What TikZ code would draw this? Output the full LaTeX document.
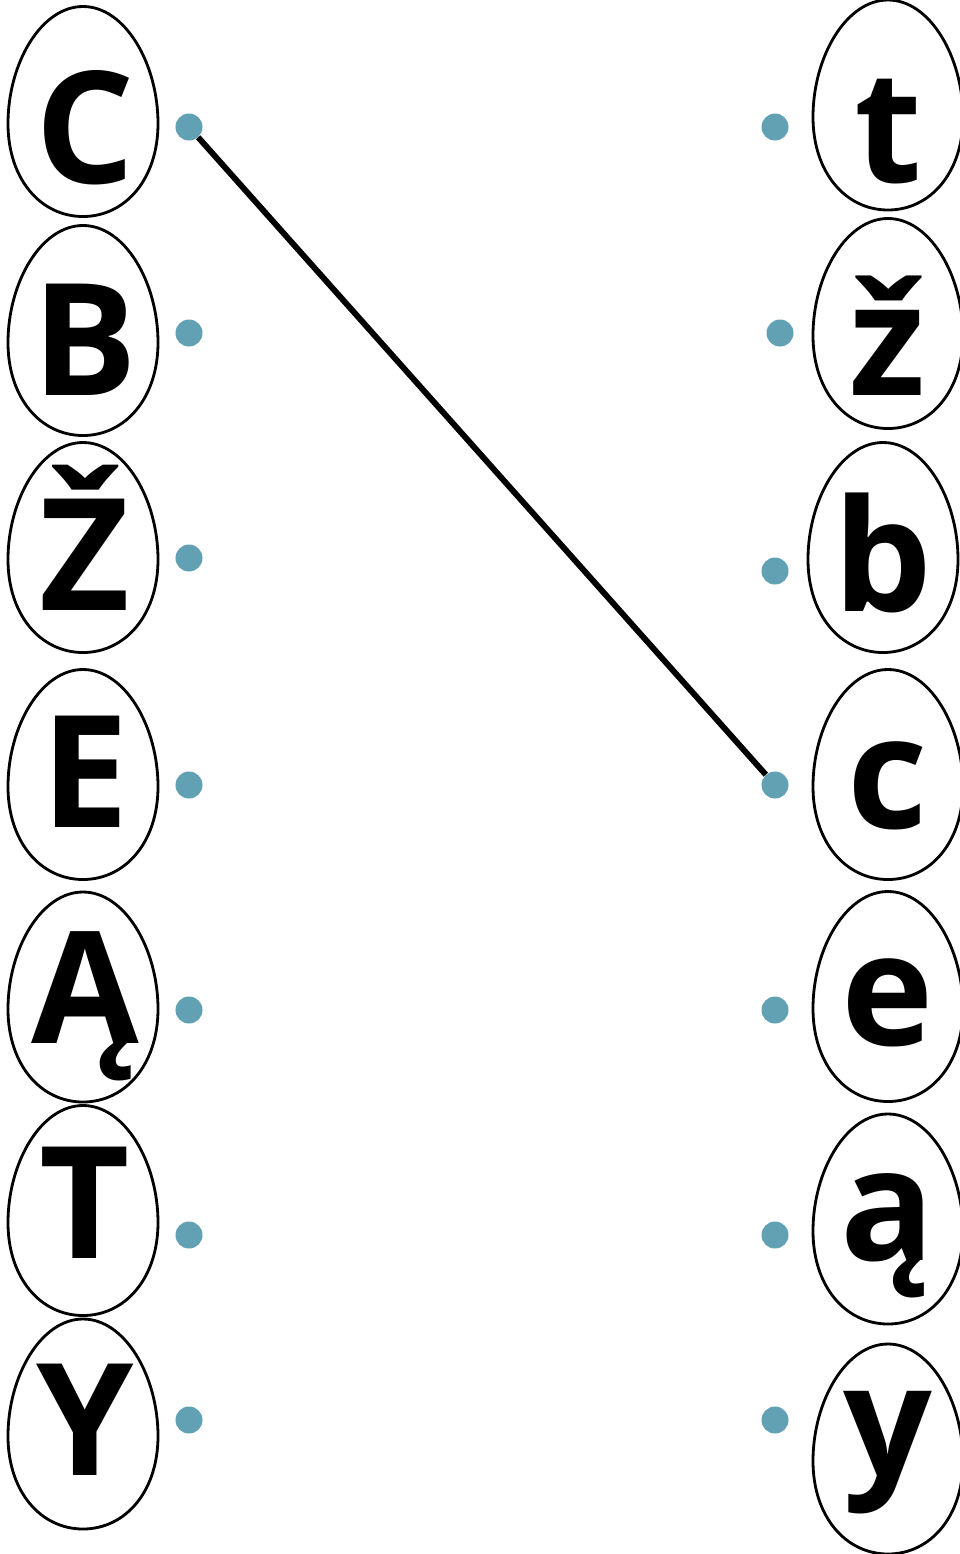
\documentclass[tikz,border=0pt]{standalone}
\usepackage{fontspec}
\setmainfont{Open Sans}
\definecolor{dotblue}{RGB}{98,161,180}
\tikzset{
    egg/.pic={
        \draw[line width=2pt] (0,-105) .. controls (42,-105) and (75,-48) .. (75,12)
            .. controls (75,68) and (42,105) .. (0,105)
            .. controls (-42,105) and (-75,68) .. (-75,12)
            .. controls (-75,-48) and (-42,-105) .. (0,-105) -- cycle;
    },
    letter/.style={anchor=base, inner sep=0pt, font=\fontsize{111}{120}\selectfont\bfseries},
    dot/.style={circle, fill=dotblue, inner sep=0pt, minimum size=0.675cm}
}

\begin{document}
\begin{tikzpicture}[x=0.025cm, y=-0.025cm]
    \useasboundingbox (0,0) rectangle (960,1554);
    \clip (0,0) rectangle (960,1554);
    % left column
    \foreach \i/\ey/\by/\dy/\ch in {1/111.5/183/127/C, 2/330.5/395/333/B,
        3/547.5/610/558/Ž, 4/774.5/827/785/E, 5/997/1043/1010/Ą,
        6/1210.5/1258/1235/T, 7/1424/1475/1420/Y} {
        \pic at (83,\ey) {egg};
        \node[letter] (L\i) at (85,\by) {\ch};
        \node[dot] (l\i) at (189,\dy) {};
    }
    % right column
    \foreach \i/\ex/\ey/\by/\dx/\dy/\ch in {1/888/105/182/775/127/t,
        2/888/323.5/395/780/333/ž, 3/883/547.5/611/775/571/b,
        4/888/774.5/828/775/785/c, 5/888/996.5/1045/775/1010/e,
        6/888/1219/1260/775/1235/ą, 7/888/1449/1476/775/1420/y} {
        \pic at (\ex,\ey) {egg};
        \node[letter] (R\i) at (\ex,\by) {\ch};
        \node[dot] (r\i) at (\dx,\dy) {};
    }
    \draw[line width=4.2pt] (l1) -- (r4);
\end{tikzpicture}
\end{document}
